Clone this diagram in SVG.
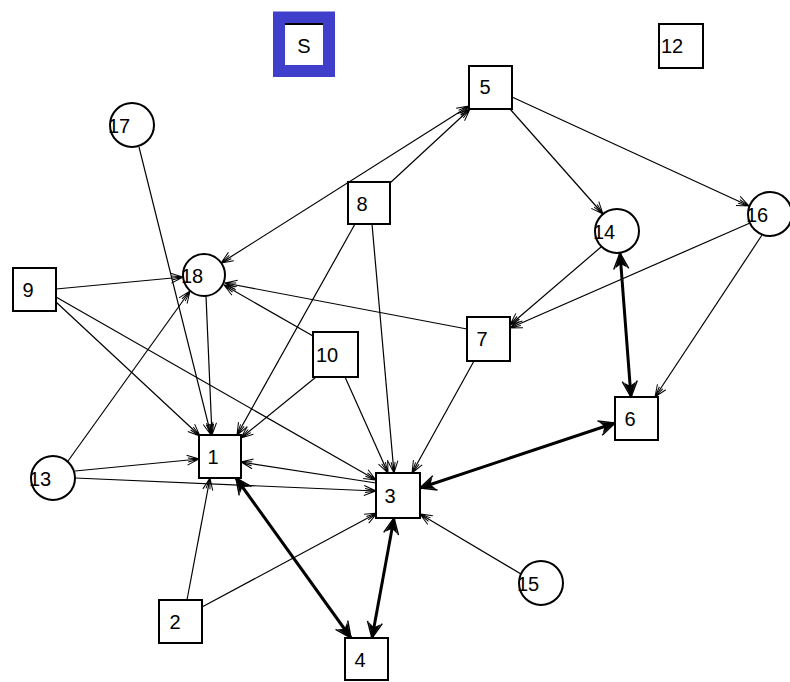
<svg xmlns="http://www.w3.org/2000/svg" width="790" height="682" viewBox="0 0 790 682">
<defs>
<marker id="a" markerUnits="userSpaceOnUse" viewBox="-13 -7 15 14" refX="0" refY="0" markerWidth="15" markerHeight="14" orient="auto-start-reverse">
<path d="M-12,-5 L0,0 L-12,5 M-11,-2 L0,0 L-11,2" fill="none" stroke="#000" stroke-width="1"/>
</marker>
<marker id="b" markerUnits="userSpaceOnUse" viewBox="-17 -9 19 18" refX="0" refY="0" markerWidth="19" markerHeight="18" orient="auto-start-reverse">
<path d="M0,0 L-15,-6 L-11,0 L-15,6 Z" fill="#000"/>
<path d="M-16,-7.5 L0,0 L-16,7.5" fill="none" stroke="#000" stroke-width="1.5"/>
</marker>
</defs>
<style>
.n rect,.n circle{fill:#fff;stroke:#000;stroke-width:2}
.t{font-family:"Liberation Sans",Arial,sans-serif;font-size:20px;fill:#000}
.bx{text-anchor:middle}
.e line{stroke:#000;stroke-width:1.2;fill:none;marker-end:url(#a)}
.e line.bi{marker-start:url(#a)}
.e line.k{stroke-width:3;marker-start:url(#b);marker-end:url(#b)}
</style>
<rect width="790" height="682" fill="#fff"/>
<g id="edges" class="e">
<line x1="139" y1="147" x2="211" y2="435"/>
<line x1="206" y1="296" x2="212" y2="435"/>
<line x1="56" y1="289" x2="183" y2="277"/>
<line x1="56" y1="302" x2="200" y2="436"/>
<line x1="56" y1="297" x2="376" y2="480"/>
<line x1="68" y1="461" x2="190" y2="291"/>
<line x1="75" y1="471" x2="199" y2="459"/>
<line x1="75" y1="478" x2="376" y2="491"/>
<line x1="187" y1="600" x2="210" y2="478"/>
<line x1="202" y1="607" x2="377" y2="513"/>
<line x1="376" y1="483" x2="241" y2="462"/>
<line x1="355" y1="224" x2="237" y2="435"/>
<line x1="316" y1="377" x2="241" y2="438"/>
<line x1="372" y1="224" x2="394" y2="473"/>
<line x1="345" y1="377" x2="388" y2="473"/>
<line x1="474" y1="361" x2="412" y2="473"/>
<line x1="313" y1="336" x2="224" y2="285"/>
<line x1="467" y1="329" x2="225" y2="283"/>
<line class="bi" x1="469" y1="106" x2="221" y2="263"/>
<line x1="390" y1="183" x2="470" y2="109"/>
<line x1="510" y1="109" x2="603" y2="214"/>
<line x1="512" y1="97" x2="749" y2="206"/>
<line x1="601" y1="247" x2="510" y2="325"/>
<line x1="750" y1="223" x2="510" y2="328"/>
<line x1="762" y1="235" x2="655" y2="397"/>
<line x1="521" y1="574" x2="420" y2="514"/>
<line class="k" x1="620" y1="253" x2="631" y2="397"/>
<line class="k" x1="420" y1="488" x2="615" y2="423"/>
<line class="k" x1="236" y1="478" x2="351" y2="638"/>
<line class="k" x1="394" y1="518" x2="372" y2="638"/>
</g>
<g id="nS">
<rect x="279" y="17.5" width="50" height="53.5" fill="#fff" stroke="#3f3fcc" stroke-width="12"/>
<line x1="285" y1="24" x2="323" y2="24" stroke="#000" stroke-width="2"/>
<text class="t bx" x="304" y="53">S</text>
</g>
<g id="n12" class="n"><rect x="659" y="24" width="44" height="44"/><text class="t bx" x="672" y="53">12</text></g>
<g id="n5" class="n"><rect x="469" y="66" width="43" height="43"/><text class="t bx" x="485" y="94">5</text></g>
<g id="n8" class="n"><rect x="348" y="182" width="42" height="42"/><text class="t bx" x="362" y="211">8</text></g>
<g id="n9" class="n"><rect x="13" y="268" width="43" height="43"/><text class="t bx" x="28" y="297">9</text></g>
<g id="n10" class="n"><rect x="313" y="332" width="45" height="45"/><text class="t bx" x="327" y="362">10</text></g>
<g id="n7" class="n"><rect x="467" y="317" width="43" height="44"/><text class="t bx" x="482" y="346">7</text></g>
<g id="n1" class="n"><rect x="199" y="435" width="42" height="43"/><text class="t bx" x="213" y="464">1</text></g>
<g id="n3" class="n"><rect x="376" y="473" width="44" height="45"/><text class="t bx" x="390" y="503">3</text></g>
<g id="n6" class="n"><rect x="615" y="397" width="43" height="43"/><text class="t bx" x="630" y="426">6</text></g>
<g id="n2" class="n"><rect x="159" y="600" width="43" height="43"/><text class="t bx" x="175" y="629">2</text></g>
<g id="n4" class="n"><rect x="345" y="638" width="43" height="42"/><text class="t bx" x="360" y="667">4</text></g>
<g id="n17" class="n"><circle cx="132" cy="125" r="22"/><text class="t" x="108" y="133">17</text></g>
<g id="n18" class="n"><circle cx="204" cy="275" r="21"/><text class="t" x="181" y="283">18</text></g>
<g id="n14" class="n"><circle cx="617" cy="231" r="22"/><text class="t" x="593" y="239">14</text></g>
<g id="n16" class="n"><circle cx="770" cy="214" r="22"/><text class="t" x="746" y="222">16</text></g>
<g id="n13" class="n"><circle cx="53" cy="478" r="22"/><text class="t" x="29" y="486">13</text></g>
<g id="n15" class="n"><circle cx="541" cy="583" r="22"/><text class="t" x="517" y="591">15</text></g>
</svg>
